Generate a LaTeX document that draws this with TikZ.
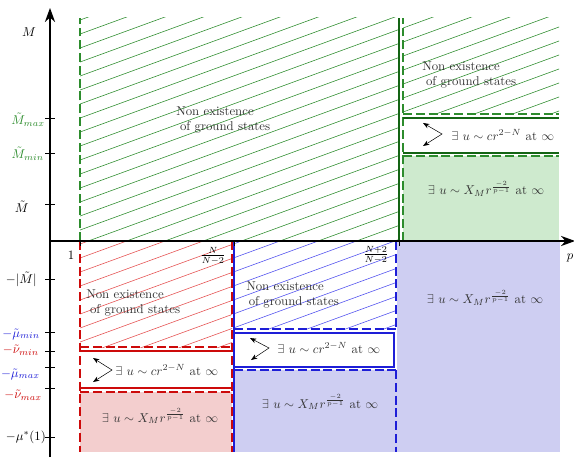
\documentclass[tikz,border=0pt]{standalone}
\usepackage{amsmath, amssymb}
\usetikzlibrary{arrows.meta}

\definecolor{hgreen}{RGB}{45,140,45}
\definecolor{dgreen}{RGB}{20,100,20}
\definecolor{hred}{RGB}{228,80,80}
\definecolor{dred}{RGB}{205,10,10}
\definecolor{hblue}{RGB}{80,80,238}
\definecolor{dblue}{RGB}{30,30,215}
\definecolor{fgreen}{RGB}{206,234,206}
\definecolor{fred}{RGB}{243,206,206}
\definecolor{fblue}{RGB}{206,206,242}

\begin{document}
\begin{tikzpicture}[x=0.0275cm, y=0.0275cm,
    hatch/.style={line width=0.45pt},
    bdash/.style={line width=1.1pt, dash pattern=on 7pt off 3pt},
    bline/.style={line width=1.2pt},
    txt/.style={text=black!80, align=left, inner sep=0pt},
    ax/.style={thick, -{Stealth[length=11pt, width=8pt]}},
    dbl/.style={thin, {Stealth[length=5pt]}-{Stealth[length=5pt]}}]
    \useasboundingbox (-50,-216) rectangle (524,241);

    % fills
    \fill[fgreen] (353,0) rectangle (509,85);
    \fill[fred] (30,-151) rectangle (182,-211);
    \fill[fblue] (184,-129) rectangle (510,-211);
    \fill[fblue] (347,0) rectangle (510,-129);

    % hatched regions
    \begin{scope}
        \clip (30,0) rectangle (349,223);
        \foreach \k in {-40,...,20} \draw[hatch, hgreen] (0,14*\k) -- ++(520,190);
    \end{scope}
    \begin{scope}
        \clip (353,127) rectangle (509,223);
        \foreach \k in {-40,...,20} \draw[hatch, hgreen] (0,14*\k) -- ++(520,190);
    \end{scope}
    \begin{scope}
        \clip (30,-106) rectangle (182,0);
        \foreach \k in {-40,...,20} \draw[hatch, hred] (0,14*\k) -- ++(520,190);
    \end{scope}
    \begin{scope}
        \clip (184,-88) rectangle (346,0);
        \foreach \k in {-40,...,20} \draw[hatch, hblue] (0,14*\k) -- ++(520,190);
    \end{scope}

    % green borders
    \draw[bdash, hgreen] (30,0) -- (30,223);
    \draw[bline, dgreen] (349,0) -- (349,223);
    \draw[bdash, hgreen] (353,0) -- (353,223);
    \draw[bdash, hgreen] (353,127) -- (509,127);
    \draw[bline, dgreen] (353,123) -- (509,123);
    \draw[bline, dgreen] (353,88) -- (509,88);
    \draw[bdash, hgreen] (353,85) -- (509,85);

    % red borders
    \draw[bdash, dred] (30,0) -- (30,-211);
    \draw[bdash, dred] (182,0) -- (182,-211);
    \draw[bdash, dred] (30,-106) -- (182,-106);
    \draw[bline, dred] (30,-110) -- (182,-110);
    \draw[bline, dred] (30,-147) -- (182,-147);
    \draw[bdash, dred] (30,-151) -- (182,-151);

    % blue borders
    \draw[bline, dblue] (184,0) -- (184,-211);
    \draw[bdash, dblue] (346,0) -- (346,-88);
    \draw[bdash, dblue] (346,-129) -- (346,-211);
    \draw[bdash, dblue] (184,-88) -- (346,-88);
    \draw[bline, dblue] (184,-92) -- (344,-92) -- (344,-126) -- (184,-126);
    \draw[bdash, dblue] (184,-129) -- (346,-129);

    % axes
    \draw[ax] (0,0) -- (525,0);
    \draw[ax] (0,-216) -- (0,233);
    \foreach \t in {123,88,37,-38,-91,-110,-126,-147,-196} \draw[thin] (-5,\t) -- (5,\t);
    \foreach \t in {30,184,349} \draw[thin] (\t,0) -- (\t,-5);

    % axis labels
    \node (p) at (520,-17) {$p$};
    \node (M) at (-21,209) {$M$};
    \node[anchor=east, inner sep=0pt, text=hgreen] (Mmax) at (-5,121) {$\tilde M_{max}$};
    \node[anchor=east, inner sep=0pt, text=hgreen] (Mmin) at (-6,87) {$\tilde M_{min}$};
    \node[anchor=east, inner sep=0pt] (Mt) at (-21,34) {$\tilde M$};
    \node[anchor=east, inner sep=0pt] (mM) at (-13,-38) {$-|\tilde M|$};
    \node[anchor=east, inner sep=0pt, text=dblue] (mumin) at (-10,-93) {$-\tilde\mu_{min}$};
    \node[anchor=east, inner sep=0pt, text=dred] (numin) at (-11,-109) {$-\tilde\nu_{min}$};
    \node[anchor=east, inner sep=0pt, text=dblue] (mumax) at (-10,-133) {$-\tilde\mu_{max}$};
    \node[anchor=east, inner sep=0pt, text=dred] (numax) at (-8,-154) {$-\tilde\nu_{max}$};
    \node[anchor=east, inner sep=0pt] (mustar) at (-4,-196) {$-\mu^*(1)$};
    \node (one) at (21,-14) {$1$};
    \node (pS) at (163,-15) {$\frac{N}{N-2}$};
    \node (pT) at (326,-14) {$\frac{N+2}{N-2}$};

    % region texts
    \node[txt, anchor=west] (ngG) at (126,121) {Non existence\\\hspace*{3pt}of ground states};
    \node[txt, anchor=west] (ngGr) at (372,166) {Non existence\\\hspace*{3pt}of ground states};
    \node[txt, anchor=west] (ngR) at (36,-62) {Non existence\\\hspace*{3pt}of ground states};
    \node[txt, anchor=west] (ngB) at (196,-54) {Non existence\\\hspace*{2pt}of ground states};

    \node[txt, anchor=west] (cG) at (401,106) {$\exists$ $u\sim cr^{2-N}$ at $\infty$};
    \node[txt, anchor=west] (cR) at (65,-129) {$\exists$ $u\sim cr^{2-N}$ at $\infty$};
    \node[txt, anchor=west] (cB) at (227,-107) {$\exists$ $u\sim cr^{2-N}$ at $\infty$};

    \node[txt] (xG) at (436,52) {$\exists$ $u\sim X_M r^{\frac{-2}{p-1}}$ at $\infty$};
    \node[txt] (xP) at (435,-57) {$\exists$ $u\sim X_M r^{\frac{-2}{p-1}}$ at $\infty$};
    \node[txt] (xR) at (110,-175) {$\exists$ $u\sim X_M r^{\frac{-2}{p-1}}$ at $\infty$};
    \node[txt] (xB) at (270,-161) {$\exists$ $u\sim X_M r^{\frac{-2}{p-1}}$ at $\infty$};

    % double arrows
    \coordinate (gA) at (373,118); \coordinate (gV) at (392,107); \coordinate (gB) at (373,95);
    \coordinate (rA) at (43,-117); \coordinate (rV) at (62,-129); \coordinate (rB) at (43,-141);
    \coordinate (bA) at (200,-97); \coordinate (bV) at (219,-107); \coordinate (bB) at (201,-119);
    \draw[dbl] (gA) -- (gV) -- (gB);
    \draw[dbl] (rA) -- (rV) -- (rB);
    \draw[dbl] (bA) -- (bV) -- (bB);
\end{tikzpicture}
\end{document}
